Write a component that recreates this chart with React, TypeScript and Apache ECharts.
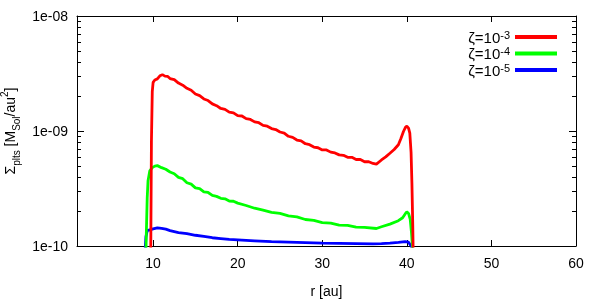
import React, { useEffect, useRef } from "react";
import * as echarts from "echarts";

// Surface density in units of 1e-10 M_Sol/au^2
const UNIT = 1e-10;

const rRed = [9.7, 9.8, 9.9, 10.0, 10.2, 10.5, 10.8, 11.1, 11.4, 11.7, 12.0, 12.5, 13.0, 13.5, 14.0, 14.5, 15.0, 15.5, 16.0, 16.5, 17.0, 17.5, 18.0, 18.5, 19.0, 19.5, 20.0, 20.5, 21.0, 21.5, 22.0, 22.5, 23.0, 23.5, 24.0, 24.5, 25.0, 25.5, 26.0, 26.5, 27.0, 27.5, 28.0, 28.5, 29.0, 29.5, 30.0, 30.5, 31.0, 31.5, 32.0, 32.5, 33.0, 33.5, 34.0, 34.5, 35.0, 35.5, 36.0, 36.4, 37.0, 37.5, 38.0, 38.5, 39.0, 39.3, 39.6, 39.85, 40.0, 40.2, 40.35, 40.5, 40.6, 40.7, 40.8];
const sigmaRed = [0.5, 8, 22, 26.5, 27.8, 28.4, 30.2, 30.9, 30.0, 29.9, 28.6, 28.0, 26.1, 25.0, 23.5, 22.6, 21.0, 20.3, 19.0, 18.4, 17.2, 16.6, 15.7, 15.4, 14.6, 14.4, 13.6, 13.5, 12.8, 12.6, 12.0, 11.8, 11.2, 11.0, 10.5, 10.3, 9.8, 9.6, 9.0, 8.8, 8.35, 8.2, 7.75, 7.6, 7.25, 7.15, 6.85, 6.85, 6.55, 6.45, 6.2, 6.15, 5.9, 5.9, 5.65, 5.65, 5.4, 5.4, 5.22, 5.15, 5.6, 5.95, 6.4, 6.9, 7.6, 8.6, 9.9, 10.8, 11.0, 10.6, 9.6, 6.5, 3.5, 1.5, 0.5];

const rGreen = [9.1, 9.2, 9.3, 9.4, 9.6, 9.9, 10.2, 10.5, 11.0, 11.5, 12.0, 12.5, 13.0, 13.5, 14.0, 14.5, 15.0, 15.5, 16.0, 16.5, 17.0, 17.5, 18.0, 18.5, 19.0, 19.5, 20.0, 21.0, 22.0, 23.0, 24.0, 25.0, 26.0, 27.0, 28.0, 29.0, 30.0, 31.0, 32.0, 33.0, 34.0, 35.0, 36.4, 37.0, 38.0, 39.0, 39.5, 39.8, 40.0, 40.2, 40.4, 40.55, 40.7];
const sigmaGreen = [0.6, 1.3, 2.6, 3.7, 4.5, 4.8, 4.95, 5.0, 4.8, 4.65, 4.4, 4.25, 3.95, 3.85, 3.55, 3.45, 3.2, 3.15, 2.95, 2.92, 2.76, 2.7, 2.6, 2.57, 2.46, 2.45, 2.36, 2.25, 2.13, 2.05, 1.96, 1.92, 1.83, 1.79, 1.7, 1.67, 1.6, 1.58, 1.52, 1.51, 1.46, 1.45, 1.42, 1.47, 1.55, 1.66, 1.76, 1.9, 1.98, 1.92, 1.7, 1.3, 0.9];

const rBlue = [8.95, 9.05, 9.15, 9.3, 9.6, 10.0, 10.5, 11.0, 11.5, 12.0, 13.0, 14.0, 15.0, 16.0, 17.0, 18.0, 19.0, 20.0, 22.0, 24.0, 26.0, 28.0, 30.0, 32.0, 34.0, 36.0, 37.0, 38.0, 39.0, 39.8, 40.2, 40.5, 40.7];
const sigmaBlue = [0.5, 0.9, 1.2, 1.36, 1.38, 1.41, 1.44, 1.42, 1.40, 1.36, 1.31, 1.28, 1.24, 1.21, 1.18, 1.16, 1.14, 1.13, 1.11, 1.09, 1.08, 1.07, 1.06, 1.055, 1.05, 1.045, 1.05, 1.06, 1.075, 1.09, 1.08, 1.0, 0.9];

const seriesNames = ["ζ=10^-3", "ζ=10^-4", "ζ=10^-5"];
const legendExponents = ["-3", "-4", "-5"];
const seriesColors = ["#ff0000", "#00ff00", "#0000ff"];

const xTicks = [10, 20, 30, 40, 50, 60];
const X_MIN = 1;
const X_MAX = 60;
const Y_MIN = 1e-10;
const Y_MAX = 1e-8;
const minorTickValues = [2e-10, 3e-10, 4e-10, 5e-10, 6e-10, 7e-10, 8e-10, 9e-10, 2e-9, 3e-9, 4e-9, 5e-9, 6e-9, 7e-9, 8e-9, 9e-9];

const FONT = "'Liberation Sans', Arial, sans-serif";

function pairs(r: number[], s: number[]) {
  return r.map((x, i) => [x, s[i] * UNIT]);
}

function fmtY(v: number) {
  const e = Math.round(Math.log10(v));
  return "1e" + (e < 0 ? "-" : "+") + String(Math.abs(e)).padStart(2, "0");
}

export default function App() {
  const ref = useRef<HTMLDivElement>(null);
  useEffect(() => {
    const chart = echarts.init(ref.current!, null, { renderer: "svg" });
    const datasets = [pairs(rRed, sigmaRed), pairs(rGreen, sigmaGreen), pairs(rBlue, sigmaBlue)];
    const axisLine = { show: true, lineStyle: { color: "#000", width: 1 } };
    chart.setOption({
      animation: false,
      grid: { left: 77, right: 24, top: 16, bottom: 54, outerBoundsMode: "none", containLabel: false },
      legend: {
        orient: "vertical",
        right: 38,
        top: 24,
        align: "right",
        icon: "rect",
        itemWidth: 42,
        itemHeight: 4,
        itemGap: 1,
        data: seriesNames,
        formatter: (name: string) => {
          const i = seriesNames.indexOf(name);
          return "{a|ζ=10}{s|" + legendExponents[i] + "}";
        },
        textStyle: {
          fontFamily: FONT,
          fontSize: 15,
          color: "#000",
          rich: {
            a: { fontFamily: FONT, fontSize: 15, color: "#000", lineHeight: 16 },
            s: { fontFamily: FONT, fontSize: 11, color: "#000", lineHeight: 10, verticalAlign: "top" },
          },
        },
      },
      xAxis: [
        {
          type: "value",
          min: X_MIN,
          max: X_MAX,
          position: "bottom",
          axisLine,
          axisTick: { show: true, inside: true, length: 6, customValues: xTicks, lineStyle: { color: "#000" } },
          axisLabel: { customValues: xTicks, color: "#000", fontFamily: FONT, fontSize: 14, margin: 10 },
          splitLine: { show: false },
          name: "r [au]",
          nameLocation: "middle",
          nameGap: 38,
          nameTextStyle: { color: "#000", fontFamily: FONT, fontSize: 14 },
        },
        {
          type: "value",
          min: X_MIN,
          max: X_MAX,
          position: "top",
          axisLine,
          axisTick: { show: true, inside: true, length: 6, customValues: xTicks, lineStyle: { color: "#000" } },
          axisLabel: { show: false },
          splitLine: { show: false },
        },
      ],
      yAxis: [
        {
          type: "log",
          logBase: 10,
          min: Y_MIN,
          max: Y_MAX,
          position: "left",
          axisLine,
          axisTick: { show: true, inside: true, length: 7, lineStyle: { color: "#000" } },
          axisLabel: { color: "#000", fontFamily: FONT, fontSize: 14, margin: 9, formatter: fmtY },
          splitLine: { show: false },
          name: "{a|Σ}{s|plts}{a| [M}{s|Sol}{a|/au}{p|2}{a|]}",
          nameLocation: "middle",
          nameGap: 52,
          nameTextStyle: {
            color: "#000",
            fontFamily: FONT,
            fontSize: 14,
            rich: {
              a: { fontFamily: FONT, fontSize: 14, color: "#000", lineHeight: 22 },
              s: { fontFamily: FONT, fontSize: 10, color: "#000", lineHeight: 12, verticalAlign: "bottom" },
              p: { fontFamily: FONT, fontSize: 10, color: "#000", lineHeight: 12, verticalAlign: "top" },
            },
          },
        },
        {
          type: "log",
          logBase: 10,
          min: Y_MIN,
          max: Y_MAX,
          position: "right",
          axisLine,
          axisTick: { show: true, inside: true, length: 7, lineStyle: { color: "#000" } },
          axisLabel: { show: false },
          splitLine: { show: false },
        },
      ],
      series: [
        ...seriesNames.map((name, i) => ({
          name,
          type: "line",
          xAxisIndex: 0,
          yAxisIndex: 0,
          data: datasets[i],
          showSymbol: false,
          symbol: "none",
          color: seriesColors[i],
          itemStyle: { color: seriesColors[i] },
          lineStyle: { color: seriesColors[i], width: 2.8 },
          clip: true,
          z: 3 - i,
        })),
        {
          type: "custom",
          xAxisIndex: 0,
          yAxisIndex: 0,
          silent: true,
          data: minorTickValues.map((v) => [X_MIN, v]),
          encode: { x: 0, y: 1 },
          renderItem: (params: any, api: any) => {
            const p = api.coord([api.value(0), api.value(1)]);
            const cs = params.coordSys;
            const y = Math.round(p[1]) + 0.5;
            return {
              type: "group",
              children: [
                { type: "line", shape: { x1: cs.x, y1: y, x2: cs.x + 4, y2: y }, style: { stroke: "#000", lineWidth: 1 } },
                { type: "line", shape: { x1: cs.x + cs.width - 4, y1: y, x2: cs.x + cs.width, y2: y }, style: { stroke: "#000", lineWidth: 1 } },
              ],
            };
          },
        },
      ],
    });
    return () => chart.dispose();
  }, []);
  return <div ref={ref} style={{ position: "fixed", left: 0, top: 0, width: 600, height: 300 }} />;
}
